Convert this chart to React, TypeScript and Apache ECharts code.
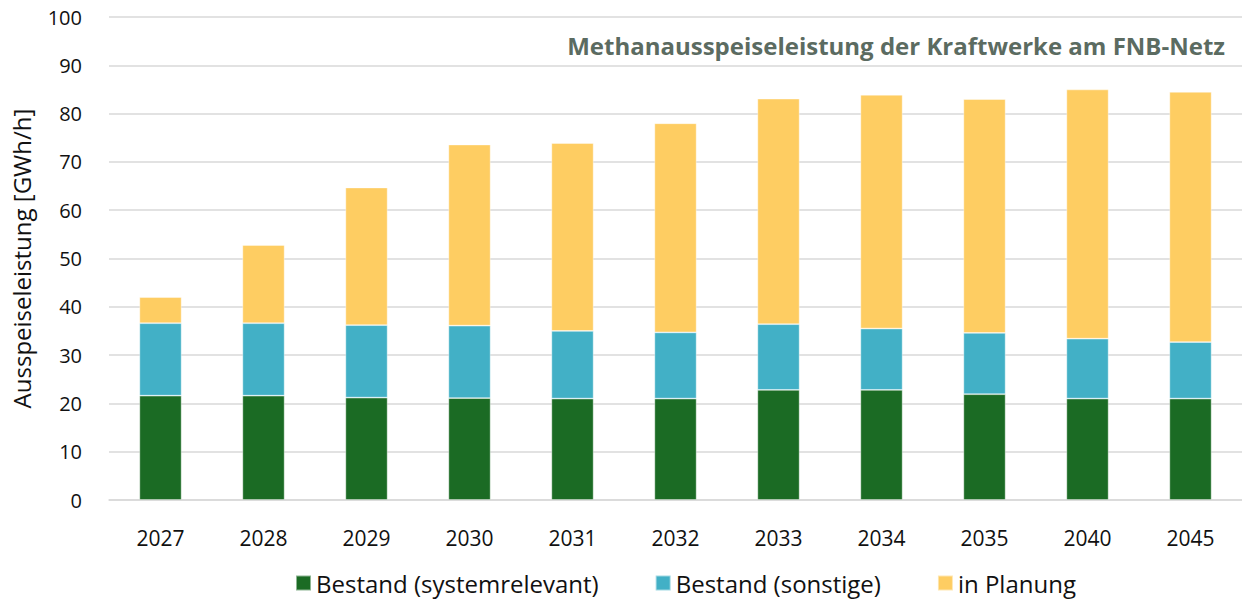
import React, { useEffect, useRef } from "react";
import * as echarts from "echarts";

const years = ["2027", "2028", "2029", "2030", "2031", "2032", "2033", "2034", "2035", "2040", "2045"];
const bestandSystem = [21.6, 21.6, 21.2, 21.1, 21.0, 21.0, 22.8, 22.8, 21.9, 21.0, 21.0];
const bestandSonstige = [15.0, 15.0, 15.0, 15.0, 14.0, 13.7, 13.6, 12.7, 12.7, 12.4, 11.7];
const inPlanung = [5.4, 16.2, 28.5, 37.5, 38.9, 43.3, 46.7, 48.4, 48.4, 51.6, 51.8];
const seriesNames = ["Bestand (systemrelevant)", "Bestand (sonstige)", "in Planung"];
const colors = ["#1b6b24", "#42b0c6", "#fecd62"];
const title = "Methanausspeiseleistung der Kraftwerke am FNB-Netz";
const yAxisName = "Ausspeiseleistung [GWh/h]";

const FONT = "'Open Sans', 'Noto Sans', sans-serif";

export default function App() {
  const ref = useRef<HTMLDivElement>(null);
  useEffect(() => {
    document.body.style.margin = "0";
    if (!ref.current) return;
    const chart = echarts.init(ref.current, null, { renderer: "svg" });
    const data = [bestandSystem, bestandSonstige, inPlanung];
    chart.setOption({
      animation: false,
      textStyle: { fontFamily: FONT },
      title: {
        text: title,
        right: 12,
        top: 28,
        textStyle: { fontFamily: FONT, fontSize: 24, fontWeight: "bold", color: "#5b6b61" },
      },
      legend: {
        bottom: 1,
        left: 290,
        itemWidth: 15,
        itemHeight: 15,
        itemGap: 56,
        icon: "rect",
        textStyle: { fontFamily: FONT, fontSize: 24, color: "#111" },
        data: seriesNames,
      },
      grid: { left: 109, right: 0, top: 17, bottom: 101 },
      xAxis: {
        type: "category",
        data: years,
        axisTick: { show: false },
        axisLine: { lineStyle: { color: "#d9d9d9", width: 1.5 } },
        axisLabel: { color: "#111", fontSize: 21, margin: 27, fontFamily: FONT },
      },
      yAxis: {
        type: "value",
        min: 0,
        max: 100,
        interval: 10,
        name: yAxisName,
        nameLocation: "middle",
        nameGap: 76,
        nameTextStyle: { fontSize: 24, color: "#111", fontFamily: FONT },
        axisLabel: { color: "#111", fontSize: 20, margin: 27, fontFamily: FONT },
        splitLine: { lineStyle: { color: "#d9d9d9", width: 1.5 } },
      },
      series: seriesNames.map((name, i) => ({
        name,
        type: "bar",
        stack: "total",
        data: data[i],
        barWidth: "41%",
        itemStyle: { color: colors[i], borderColor: "rgba(255,255,255,0.5)", borderWidth: 0.8 },
      })),
    });
    return () => chart.dispose();
  }, []);
  return <div ref={ref} style={{ width: 1242, height: 601 }} />;
}
